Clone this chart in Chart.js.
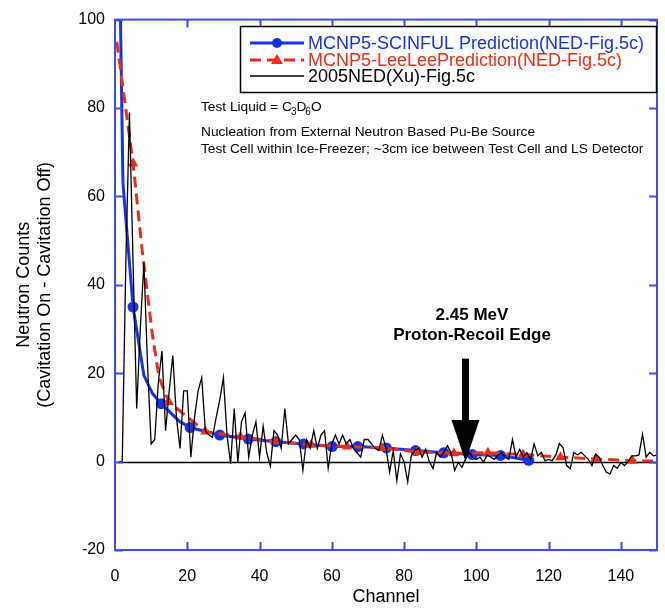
<!DOCTYPE html>
<html>
<head>
<meta charset="utf-8">
<script src="https://cdn.jsdelivr.net/npm/chart.js@4.4.0/dist/chart.umd.min.js"></script>
<style>
html, body { margin: 0; padding: 0; background: #fff; }
#wrap { position: relative; width: 665px; height: 610px; }
</style>
</head>
<body>
<div id="wrap"><canvas id="chart" width="665" height="610"></canvas></div>
<script>
// DATA
// MCNP5-SCINFUL prediction (blue, circles where mark = 1)
const scinfulCh   = [1.5, 2.2, 5, 8, 10.3, 12.8, 17.7, 20.8, 29, 36.9, 44.5, 52.2, 60.1, 67.2, 75.1, 83.2, 91, 98.9, 106.7, 114.5];
const scinfulVal  = [101, 63, 35, 19.5, 15.5, 13.1, 9.2, 7.7, 6.0, 5.1, 4.5, 4.0, 3.4, 3.4, 3.1, 2.5, 2.0, 1.6, 1.4, 0.3];
const scinfulMark = [0, 0, 1, 0, 0, 1, 0, 1, 1, 1, 1, 1, 1, 1, 1, 1, 1, 1, 1, 1];

// MCNP5-LeeLee prediction (red dashed, triangles where mark = 1)
const leeCh   = [0.5, 5, 7.5, 10.3, 12.2, 14.9, 25, 34.7, 44.4, 54.3, 64.2, 73.9, 83.8, 93.8, 103.2, 112.9, 123.3, 133, 143.2, 150];
const leeVal  = [95, 67.5, 48, 29, 19, 13.5, 6.8, 5.6, 4.6, 3.8, 3.4, 3.1, 2.2, 1.9, 2.0, 1.6, 1.0, 0.6, 0.2, 0.1];
const leeMark = [0, 1, 0, 0, 0, 1, 1, 1, 1, 1, 1, 1, 1, 1, 1, 1, 1, 1, 1, 0];

// 2005NED (Xu) measured counts, channels 1..150
const xuVal = [
  0, 0, 45, 79, 45, 12, 30, 45, 22, 4,
  5, 18, 25, 7, 16, 24, 10, 3, 16, 16,
  1, 10, 16, 19, 7, 6, 5.5, 10, 14, 19,
  6, -0.5, 12, -0.2, 9, 11, 1, 6, 9, 1,
  8, 2, -1, 7, 6, 3, 12, 4, 5, 6,
  5, -2, 5, 3, 7, 3, 6, 7, -1.5, 4,
  6, 4, 6, 4, 5, 3, 2, 1, 5, 5,
  4, 3, 2.5, 6, 3, -2.4, 2.5, -4.3, 1.7, 0,
  -4.6, 1.3, 2.5, 3, 1, 2.8, 0, -1.6, 2, 1,
  2, 3.6, 2, -2, -0.2, -1.3, 0.5, 2, 1, 0.5,
  1, -0.1, 1.5, 1, 0.5, 1.5, 2, 1, 0.5, 5,
  1, 2.8, 1, 2, 0.5, 4, 1.3, 2.1, 0.2, 0.5,
  0.2, 1.5, 4.1, 3.2, -0.9, -1.6, 2.1, 1.5, 2.1, 1.3,
  0.5, -0.9, 1.7, 1, -0.9, -2.4, -2.8, -0.9, -1.5, -0.2,
  -0.9, 0, 1.3, 1.3, 1.5, 6.2, 1, 2.1, 1.3, 1.5
];
const xuCh = xuVal.map((v, i) => i + 1);

const xTicks = [0, 20, 40, 60, 80, 100, 120, 140];
const yTicks = [-20, 0, 20, 40, 60, 80, 100];

const seriesNames = [
  "MCNP5-SCINFUL Prediction(NED-Fig.5c)",
  "MCNP5-LeeLeePrediction(NED-Fig.5c)",
  "2005NED(Xu)-Fig.5c"
];
const notes = [
  "Nucleation from External Neutron Based Pu-Be Source",
  "Test Cell within Ice-Freezer; ~3cm ice between Test Cell and LS Detector"
];

// STYLE
const FONT = "Arial, 'Liberation Sans', sans-serif";
const BLUE = "#1633ea";
const RED = "#ec2e1a";
const FRAME = "#3b4ff0";

function pts(xs, ys) {
  return xs.map((x, i) => ({ x: x, y: ys[i] }));
}

// DECORATION: zero line, frame, ticks, arrow, legend, notes
const decor = {
  id: "decor",
  beforeDatasetsDraw(chart) {
    const { ctx, scales: { x, y } } = chart;
    const y0 = Math.round(y.getPixelForValue(0)) + 0.5;
    ctx.save();
    ctx.strokeStyle = "#000";
    ctx.lineWidth = 1.3;
    ctx.beginPath();
    ctx.moveTo(x.getPixelForValue(1), y0);
    ctx.lineTo(x.right, y0);
    ctx.stroke();
    ctx.restore();
  },
  afterDatasetsDraw(chart) {
    const { ctx, chartArea: a, scales: { x, y } } = chart;
    ctx.save();

    // arrow at the proton recoil edge
    const ax = x.getPixelForValue(97);
    const tail = y.getPixelForValue(23.3);
    const head = y.getPixelForValue(9.4);
    const tip = y.getPixelForValue(0);
    ctx.fillStyle = "#000";
    ctx.fillRect(ax - 3.5, tail, 7, head - tail + 1);
    ctx.beginPath();
    ctx.moveTo(ax - 14, head);
    ctx.lineTo(ax + 14, head);
    ctx.lineTo(ax, tip);
    ctx.closePath();
    ctx.fill();

    ctx.font = "bold 17px " + FONT;
    ctx.textAlign = "center";
    ctx.textBaseline = "middle";
    ctx.fillText("2.45 MeV", x.getPixelForValue(98.8), y.getPixelForValue(33.2));
    ctx.fillText("Proton-Recoil Edge", x.getPixelForValue(98.8), y.getPixelForValue(28.5));

    // frame
    ctx.strokeStyle = FRAME;
    ctx.lineWidth = 2;
    ctx.strokeRect(a.left, a.top, a.right - a.left, a.bottom - a.top);

    // inward ticks on all four sides
    const tl = 8;
    ctx.beginPath();
    xTicks.forEach(t => {
      const px = Math.round(x.getPixelForValue(t)) + 0.5;
      if (px <= a.left + 2) return;
      ctx.moveTo(px, a.bottom); ctx.lineTo(px, a.bottom - tl);
      ctx.moveTo(px, a.top); ctx.lineTo(px, a.top + tl);
    });
    yTicks.forEach(t => {
      const py = Math.round(y.getPixelForValue(t)) + 0.5;
      ctx.moveTo(a.left, py); ctx.lineTo(a.left + tl, py);
      ctx.moveTo(a.right, py); ctx.lineTo(a.right - tl, py);
    });
    ctx.stroke();
    ctx.restore();
  },
  afterDraw(chart) {
    const { ctx } = chart;
    ctx.save();

    // legend box
    const bx = 240, by = 26, bw = 416, bh = 66;
    ctx.fillStyle = "#fff";
    ctx.fillRect(bx, by, bw, bh);
    ctx.strokeStyle = "#000";
    ctx.lineWidth = 1.5;
    ctx.strokeRect(bx + 0.5, by + 0.5, bw, bh);

    const rows = [43, 60, 76];
    const colors = [BLUE, RED, "#000"];
    const s0 = 250, s1 = 304;

    // blue row
    ctx.strokeStyle = BLUE;
    ctx.lineWidth = 3;
    ctx.beginPath(); ctx.moveTo(s0, rows[0]); ctx.lineTo(s1, rows[0]); ctx.stroke();
    ctx.fillStyle = BLUE;
    ctx.beginPath(); ctx.arc((s0 + s1) / 2, rows[0], 5, 0, Math.PI * 2); ctx.fill();

    // red row
    ctx.strokeStyle = RED;
    ctx.setLineDash([11, 6]);
    ctx.beginPath(); ctx.moveTo(s0, rows[1]); ctx.lineTo(s1, rows[1]); ctx.stroke();
    ctx.setLineDash([]);
    ctx.fillStyle = RED;
    const cx = (s0 + s1) / 2;
    ctx.beginPath();
    ctx.moveTo(cx, rows[1] - 6); ctx.lineTo(cx + 6, rows[1] + 4); ctx.lineTo(cx - 6, rows[1] + 4);
    ctx.closePath(); ctx.fill();

    // black row
    ctx.strokeStyle = "#000";
    ctx.lineWidth = 1.3;
    ctx.beginPath(); ctx.moveTo(s0, rows[2]); ctx.lineTo(s1, rows[2]); ctx.stroke();

    ctx.font = "18px " + FONT;
    ctx.textAlign = "left";
    ctx.textBaseline = "middle";
    seriesNames.forEach((n, i) => {
      ctx.fillStyle = colors[i];
      ctx.fillText(n, 308, rows[i] + 1);
    });

    // notes
    ctx.fillStyle = "#000";
    const fs = 13.7;
    let tx = 201;
    const ty = 107;
    const sub = (big, small) => {
      ctx.font = fs + "px " + FONT;
      ctx.fillText(big, tx, ty);
      tx += ctx.measureText(big).width;
      if (small) {
        ctx.font = "10px " + FONT;
        ctx.fillText(small, tx - 1, ty + 5);
        tx += ctx.measureText(small).width - 1;
      }
    };
    sub("Test Liquid = C", "3");
    sub("D", "6");
    sub("O");
    ctx.font = fs + "px " + FONT;
    ctx.fillText(notes[0], 201, 132);
    ctx.fillText(notes[1], 201, 149);
    ctx.restore();
  }
};

// CHART
new Chart(document.getElementById("chart"), {
  type: "scatter",
  data: {
    datasets: [
      {
        label: seriesNames[2],
        data: pts(xuCh, xuVal),
        showLine: true,
        borderColor: "#000",
        borderWidth: 1.3,
        pointRadius: 0,
        tension: 0
      },
      {
        label: seriesNames[1],
        data: pts(leeCh, leeVal),
        showLine: true,
        borderColor: RED,
        borderWidth: 3,
        borderDash: [11, 6],
        backgroundColor: RED,
        pointStyle: "triangle",
        pointRadius: leeMark.map(m => (m ? 6 : 0)),
        pointBorderWidth: 0,
        tension: 0
      },
      {
        label: seriesNames[0],
        data: pts(scinfulCh, scinfulVal),
        showLine: true,
        borderColor: BLUE,
        borderWidth: 3,
        backgroundColor: BLUE,
        pointStyle: "circle",
        pointRadius: scinfulMark.map(m => (m ? 5.5 : 0)),
        pointBorderWidth: 0,
        tension: 0
      }
    ]
  },
  options: {
    responsive: false,
    animation: false,
    devicePixelRatio: 1,
    layout: { padding: { top: 15, right: 8, left: 0, bottom: 0 } },
    plugins: { legend: { display: false }, tooltip: { enabled: false } },
    scales: {
      x: {
        type: "linear",
        min: 0,
        max: 150,
        afterFit: s => { s.height = 60; },
        afterBuildTicks: s => { s.ticks = xTicks.map(v => ({ value: v })); },
        grid: { display: false, drawTicks: false },
        border: { display: false },
        ticks: { color: "#000", font: { family: FONT, size: 16 }, padding: 17, maxRotation: 0 },
        title: { display: true, text: "Channel", color: "#000", font: { family: FONT, size: 18 }, padding: { top: 0, bottom: 2 } }
      },
      y: {
        min: -20,
        max: 100,
        afterFit: s => { s.width = 115; },
        afterBuildTicks: s => { s.ticks = yTicks.map(v => ({ value: v })); },
        grid: { display: false, drawTicks: false },
        border: { display: false },
        ticks: { color: "#000", font: { family: FONT, size: 16 }, padding: 10 },
        title: {
          display: true,
          text: ["Neutron Counts", "(Cavitation On - Cavitation Off)"],
          color: "#000",
          font: { family: FONT, size: 18 },
          padding: { top: 13, bottom: 0 }
        }
      }
    }
  },
  plugins: [decor]
});
</script>
</body>
</html>
